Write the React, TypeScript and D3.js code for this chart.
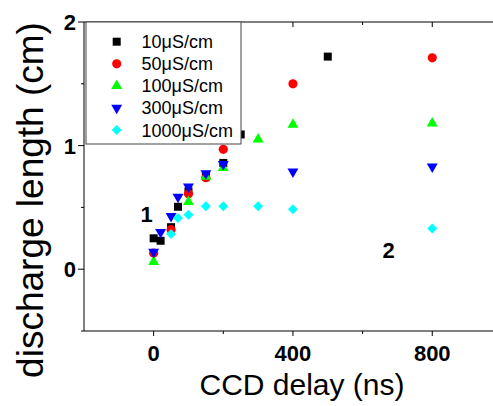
import React from "react";
import * as d3 from "d3";

const seriesNames = ["10μS/cm", "50μS/cm", "100μS/cm", "300μS/cm", "1000μS/cm"];
const seriesColors = ["#000000", "#ff0000", "#00ff00", "#0000ff", "#00ffff"];
const seriesShapes = ["square", "circle", "triangleUp", "triangleDown", "diamond"];

const s10: [number, number][] = [
  [0, 0.25], [20, 0.23], [50, 0.34], [70, 0.505], [100, 0.63], [150, 0.75], [200, 0.86], [250, 1.09], [500, 1.72],
];
const s50: [number, number][] = [
  [0, 0.13], [50, 0.32], [100, 0.61], [150, 0.74], [200, 0.97], [400, 1.5], [800, 1.71],
];
const s100: [number, number][] = [
  [0, 0.06], [100, 0.545], [150, 0.75], [200, 0.82], [300, 1.05], [400, 1.17], [800, 1.18],
];
const s300: [number, number][] = [
  [0, 0.14], [20, 0.3], [50, 0.43], [70, 0.585], [100, 0.667], [150, 0.775], [200, 0.85], [400, 0.79], [800, 0.83],
];
const s1000: [number, number][] = [
  [50, 0.285], [70, 0.415], [100, 0.44], [150, 0.51], [200, 0.51], [300, 0.51], [400, 0.486], [800, 0.33],
];
const allSeries = [s10, s50, s100, s300, s1000];

const xMajorTicks = [0, 400, 800];
const xMinorTicks = [200, 600];
const yMajorTicks = [0, 1, 2];
const yMinorTicks = [-0.5, 0.5, 1.5];

const annotations = [
  { label: "1", x: -20, y: 0.385 },
  { label: "2", x: 675, y: 0.09 },
];

function symbolPath(shape: string): { d: string; rot: number } {
  switch (shape) {
    case "square":
      return { d: d3.symbol(d3.symbolSquare, 64)()!, rot: 0 };
    case "circle":
      return { d: d3.symbol(d3.symbolCircle, 66)()!, rot: 0 };
    case "triangleUp":
      return { d: d3.symbol(d3.symbolTriangle, 52)()!, rot: 0 };
    case "triangleDown":
      return { d: d3.symbol(d3.symbolTriangle, 52)()!, rot: 180 };
    default:
      return { d: d3.symbol(d3.symbolSquare, 50)()!, rot: 45 };
  }
}

export default function App() {
  const W = 493;
  const H = 406;
  const x = d3.scaleLinear().domain([-200, 1000]).range([84, 501.9]);
  const y = d3.scaleLinear().domain([-0.5, 2]).range([331, 22]);
  const font = "'Liberation Sans', Arial, sans-serif";
  const left = x(-200);
  const right = x(1000);
  const top = y(2);
  const bottom = y(-0.5);

  return (
    <svg
      width={W}
      height={H}
      style={{ position: "absolute", left: 0, top: 0, display: "block", background: "#fff" }}
      fontFamily={font}
    >
      {/* frame */}
      <line x1={left} x2={right} y1={top} y2={top} stroke="#555" strokeWidth={1.3} />
      <line x1={left} x2={right} y1={bottom} y2={bottom} stroke="#000" strokeWidth={1} />
      <line x1={left} x2={left} y1={top} y2={bottom} stroke="#000" strokeWidth={1} />

      {/* x ticks bottom */}
      {xMajorTicks.map((t) => (
        <g key={"xb" + t}>
          <line x1={x(t)} x2={x(t)} y1={bottom} y2={bottom + 5} stroke="#000" />
          <line x1={x(t)} x2={x(t)} y1={top} y2={top + 5} stroke="#000" />
          <text x={x(t)} y={361} textAnchor="middle" fontSize={22} fontWeight="bold">
            {t}
          </text>
        </g>
      ))}
      {xMinorTicks.map((t) => (
        <g key={"xm" + t}>
          <line x1={x(t)} x2={x(t)} y1={bottom} y2={bottom + 3} stroke="#000" />
          <line x1={x(t)} x2={x(t)} y1={top} y2={top + 3} stroke="#000" />
        </g>
      ))}
      {/* y ticks */}
      {yMajorTicks.map((t) => (
        <g key={"y" + t}>
          <line x1={left - 6} x2={left} y1={y(t)} y2={y(t)} stroke="#000" />
          <text x={76} y={y(t)} dy="0.36em" textAnchor="end" fontSize={22} fontWeight="bold">
            {t}
          </text>
        </g>
      ))}
      {yMinorTicks.map((t) => (
        <line key={"ym" + t} x1={left - 3} x2={left} y1={y(t)} y2={y(t)} stroke="#000" />
      ))}

      {/* axis titles */}
      <text x={302} y={395} textAnchor="middle" fontSize={30}>
        CCD delay (ns)
      </text>
      <text
        transform={`translate(43,200) rotate(-90)`}
        textAnchor="middle"
        fontSize={37}
      >
        discharge length (cm)
      </text>

      {/* data */}
      {allSeries.map((s, i) => {
        const sp = symbolPath(seriesShapes[i]);
        return (
          <g key={"s" + i}>
            {s.map(([dx, dy], j) => (
              <path
                key={j}
                d={sp.d}
                fill={seriesColors[i]}
                transform={`translate(${x(dx)},${y(dy)}) rotate(${sp.rot})`}
              />
            ))}
          </g>
        );
      })}

      {/* annotations */}
      {annotations.map((a) => (
        <text key={a.label} x={x(a.x)} y={y(a.y)} textAnchor="middle" fontSize={22} fontWeight="bold">
          {a.label}
        </text>
      ))}

      {/* legend */}
      <rect x={86} y={22} width={155} height={122} fill="#fff" stroke="#444" strokeWidth={1} />
      {seriesNames.map((name, i) => {
        const sp = symbolPath(seriesShapes[i]);
        const cy = 41.7 + i * 22.1;
        return (
          <g key={"l" + i}>
            <path d={sp.d} fill={seriesColors[i]} transform={`translate(116.7,${cy}) rotate(${sp.rot})`} />
            <text x={141.5} y={cy} dy="0.36em" fontSize={18}>
              {name}
            </text>
          </g>
        );
      })}
    </svg>
  );
}
